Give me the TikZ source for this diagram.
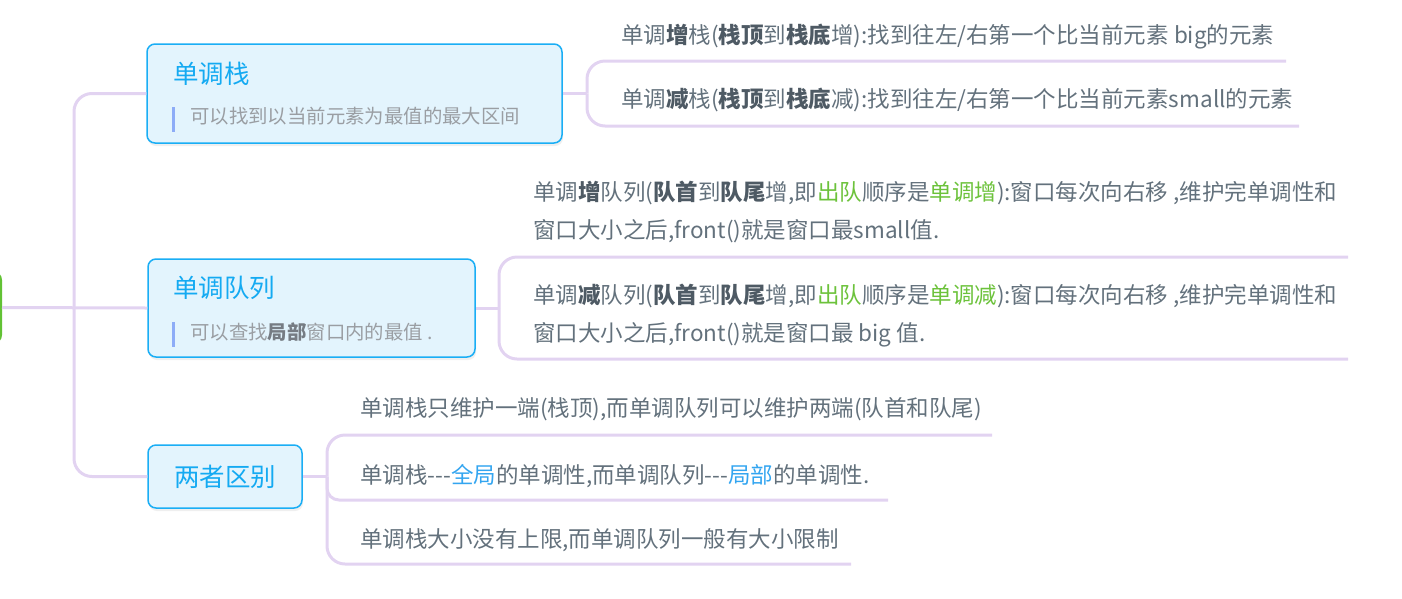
\documentclass[tikz,border=0pt]{standalone}
\usepackage{fontspec}
\setmainfont{Noto Sans CJK SC}[Ligatures=TeXOff]
\usetikzlibrary{shadows}
\definecolor{boxfill}{HTML}{E3F4FD}
\definecolor{boxdraw}{HTML}{1AAEF5}
\definecolor{titlecol}{HTML}{14AAF2}
\definecolor{barcol}{HTML}{8DACF7}
\definecolor{subcol}{HTML}{9A9EA3}
\definecolor{subbold}{HTML}{767C83}
\definecolor{txt}{HTML}{63717C}
\definecolor{txtbold}{HTML}{4E5A64}
\definecolor{grn}{HTML}{6CC23B}
\definecolor{hl}{HTML}{33A5F0}
\definecolor{conncol}{HTML}{E2D3F1}
\definecolor{rootgrn}{HTML}{62C234}
\newcommand{\bdtxt}[1]{\textbf{\color{txtbold}#1}}
\newcommand{\grtxt}[1]{\textcolor{grn}{#1}}
\newcommand{\hltxt}[1]{\textcolor{hl}{#1}}
\begin{document}
\begin{tikzpicture}[x=1pt,y=-1pt,
  box/.style={draw=boxdraw, line width=1.5pt, fill=boxfill, rounded corners=8pt, inner sep=0pt,
    drop shadow={shadow xshift=1pt, shadow yshift=-3pt, opacity=0.13}},
  title/.style={inner sep=0pt, text=titlecol, font=\fontsize{25.5}{30}\selectfont},
  sub/.style={inner sep=0pt, text=subcol, font=\fontsize{19.4}{23}\selectfont},
  child/.style={inner sep=0pt, text=txt, font=\fontsize{22.5}{27}\selectfont, anchor=base west},
  conn/.style={draw=conncol, line width=3pt},
  bar/.style={draw=barcol, line width=3pt}
]
\useasboundingbox (0,0) rectangle (1402,598);

% root (mostly off-canvas)
\node[draw=rootgrn, line width=2pt, rounded corners=8pt, minimum width=120pt, minimum height=71pt, inner sep=0pt] (root) at (-59,307.5) {};

% main nodes
\node[box, minimum width=415pt, minimum height=99pt] (n1) at (354.5,93.5) {};
\node[box, minimum width=327pt, minimum height=98pt] (n2) at (311.5,308) {};
\node[box, minimum width=154pt, minimum height=63pt] (n3) at (225,476.5) {};

% trunk connectors
\coordinate (trunk) at (74,308);
\draw[conn] (root.east) -- (n2.west);
\draw[conn, rounded corners=18pt] (trunk) |- (n1.west);
\draw[conn, rounded corners=18pt] (trunk) |- (n3.west);

% node contents
\node[title, anchor=base west] (t1) at (173,83.2) {单调栈};
\draw[bar] (173.5,107) -- (173.5,132);
\node[sub, anchor=base west] (s1) at (190,123.7) {可以找到以当前元素为最值的最大区间};

\node[title, anchor=base west] (t2) at (173,297.7) {单调队列};
\draw[bar] (173.5,322) -- (173.5,347);
\node[sub, anchor=base west] (s2) at (190,339.2) {可以查找\textbf{\color{subbold}局部}窗口内的最值 .};

\node[title, anchor=base] (t3) at (225,486.7) {两者区别};

% children of n1
\coordinate (b1) at (587,93.5);
\coordinate (u11) at (1286,61);
\coordinate (u12) at (1299,126);
\draw[conn] (n1.east) -- (b1);
\draw[conn, rounded corners=18pt] (b1) |- (u11);
\draw[conn, rounded corners=18pt] (b1) |- (u12);
\node[child] (c11) at (621,43.5) {单调\bdtxt{增}栈(\bdtxt{栈顶}到\bdtxt{栈底}增):找到往左/右第一个比当前元素 big的元素};
\node[child] (c12) at (621,107.5) {单调\bdtxt{减}栈(\bdtxt{栈顶}到\bdtxt{栈底}减):找到往左/右第一个比当前元素small的元素};

% children of n2
\coordinate (b2) at (499,308);
\coordinate (u21) at (1348,257);
\coordinate (u22) at (1348,359);
\draw[conn] (n2.east) -- (b2);
\draw[conn, rounded corners=18pt] (b2) |- (u21);
\draw[conn, rounded corners=18pt] (b2) |- (u22);
\node[child] (c21a) at (533,200.5) {单调\bdtxt{增}队列(\bdtxt{队首}到\bdtxt{队尾}增,即\grtxt{出队}顺序是\grtxt{单调增}):窗口每次向右移 ,维护完单调性和};
\node[child] (c21b) at (533,238.5) {窗口大小之后,front()就是窗口最small值.};
\node[child] (c22a) at (533,303.5) {单调\bdtxt{减}队列(\bdtxt{队首}到\bdtxt{队尾}增,即\grtxt{出队}顺序是\grtxt{单调减}):窗口每次向右移 ,维护完单调性和};
\node[child] (c22b) at (533,341.5) {窗口大小之后,front()就是窗口最 big 值.};

% children of n3
\coordinate (b3) at (327,476.5);
\coordinate (u31) at (992,435);
\coordinate (u32) at (888,500);
\coordinate (u33) at (851,564);
\draw[conn] (n3.east) -- (b3);
\draw[conn, rounded corners=18pt] (b3) |- (u31);
\draw[conn, rounded corners=12pt] (b3) |- (u32);
\draw[conn, rounded corners=18pt] (b3) |- (u33);
\node[child] (c31) at (360,416.5) {单调栈只维护一端(栈顶),而单调队列可以维护两端(队首和队尾)};
\node[child] (c32) at (360,483.5) {单调栈---\hltxt{全局}的单调性,而单调队列---\hltxt{局部}的单调性.};
\node[child] (c33) at (360,547.5) {单调栈大小没有上限,而单调队列一般有大小限制};
\end{tikzpicture}
\end{document}
